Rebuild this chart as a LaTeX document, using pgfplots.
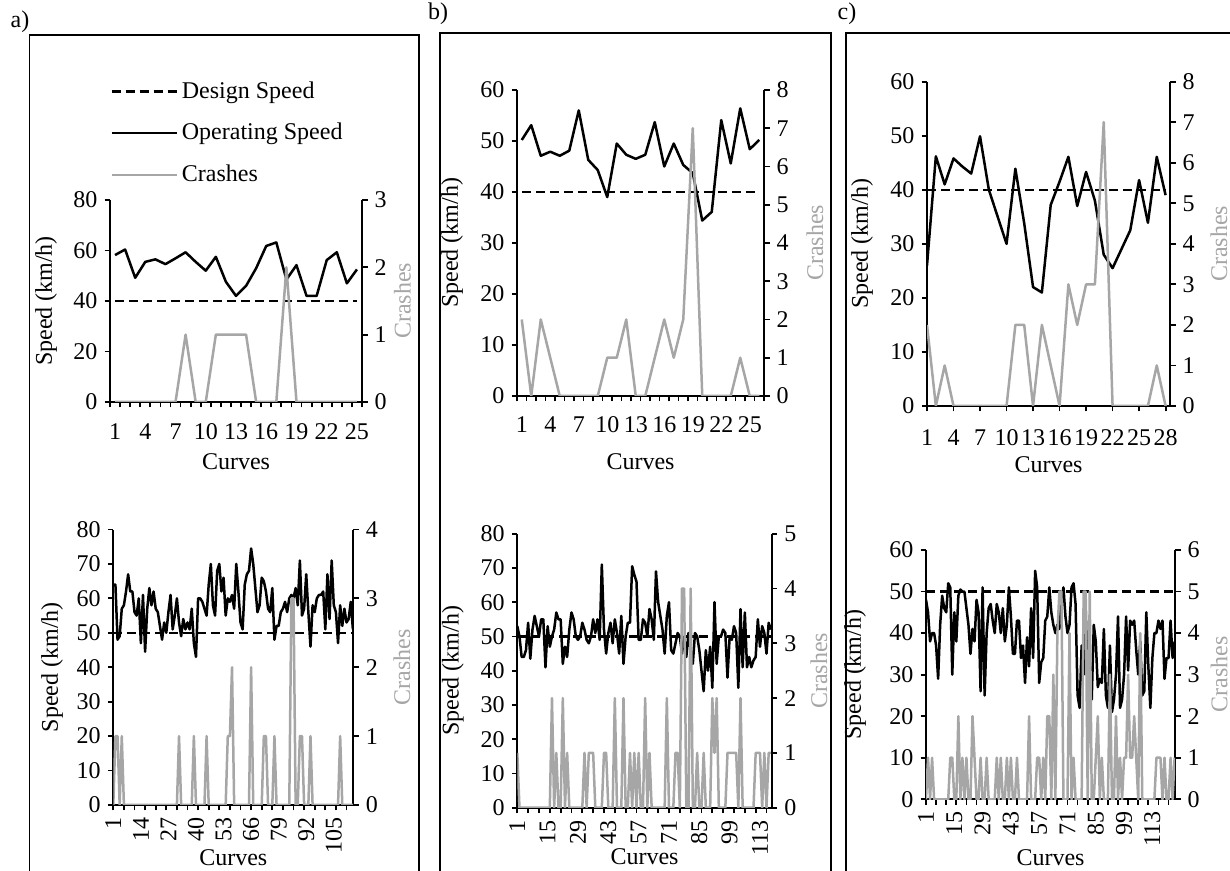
\documentclass[border=0pt]{standalone}
\usepackage{fontspec}
\setmainfont{Liberation Serif}
\usepackage{pgfplots}
\usepackage{pgfplotstable}
\pgfplotsset{compat=1.18}
\definecolor{crashgray}{HTML}{A6A6A6}

\pgfplotsset{
  panel/.style={scale only axis, anchor=south west,
    font=\fontsize{12}{14}\selectfont,
    axis line style={line width=0.9pt, black},
    tick style={line width=0.9pt, black},
    major tick length=2.75pt, minor tick length=2.75pt,
    /pgf/number format/assume math mode=true},
  leftax/.style={panel, axis x line*=bottom, axis y line*=left, tick align=outside,
    ylabel={Speed (km/h)}, xlabel={Curves}},
  rightax/.style={panel, axis x line=none, axis y line*=right, tick align=outside,
    ylabel={Crashes}, ylabel style={text=crashgray}},
  spd/.style={black, line width=1.25pt, no markers, line join=round},
  dsg/.style={black, line width=1.25pt, no markers, dash pattern=on 4.5pt off 2.5pt},
  crs/.style={crashgray, line width=1.25pt, no markers, line join=round},
}

% ---------- top a ----------
\pgfplotstableread[row sep=\\]{s c\\
58.2 0\\ 60.4 0\\ 49.2 0\\ 55.5 0\\ 56.5 0\\ 54.6 0\\ 56.9 0\\ 59.3 1\\ 55.5 0\\ 52 0\\
57.5 1\\ 47.6 1\\ 42 1\\ 46 1\\ 53 0\\ 61.8 0\\ 63.2 0\\ 48.5 2\\ 54.2 0\\ 42 0\\
42 0\\ 56.2 0\\ 59.3 0\\ 47 0\\ 52.5 0\\
}\TA
% ---------- top b ----------
\pgfplotstableread[row sep=\\]{s c\\
50.2 2\\ 53.1 0\\ 47.1 2\\ 47.9 1\\ 47.1 0\\ 48.1 0\\ 56 0\\ 46.3 0\\ 44.3 0\\ 39 1\\
49.5 1\\ 47.3 2\\ 46.5 0\\ 47.3 0\\ 53.7 1\\ 45 2\\ 49.5 1\\ 45.3 2\\ 43.7 7\\ 34.4 0\\
36.1 0\\ 54.1 0\\ 45.6 0\\ 56.4 1\\ 48.4 0\\ 50.2 0\\
}\TB
% ---------- top c ----------
\pgfplotstableread[row sep=\\]{s c\\
26 2\\ 46.2 0\\ 41 1\\ 45.8 0\\ 44.3 0\\ 43 0\\ 49.9 0\\ 40 0\\ 35 0\\ 30 0\\
43.9 2\\ 33.8 2\\ 22 0\\ 21 2\\ 37.2 1\\ 41.5 0\\ 46.1 3\\ 37 2\\ 43.3 3\\ 38 3\\
28 7\\ 25.5 0\\ 29 0\\ 32.5 0\\ 41.8 0\\ 33.9 0\\ 46.1 1\\ 39 0\\
}\TC
% ---------- bottom a ----------
\pgfplotstableread[row sep=\\]{s c\\
64 0\\ 64 1\\ 48 1\\ 49 0\\ 57 1\\ 58 0\\ 62 0\\ 67 0\\ 62 0\\ 62 0\\
56 0\\ 55 0\\ 60 0\\ 47 0\\ 61 0\\ 44.5 0\\ 57 0\\ 63 0\\ 58 0\\ 62 0\\
57 0\\ 56 0\\ 52 0\\ 48 0\\ 53 0\\ 50 0\\ 56 0\\ 61 0\\ 51 0\\ 55 0\\
60 0\\ 53 1\\ 49 0\\ 54 0\\ 51 0\\ 53 0\\ 51 0\\ 57 0\\ 47 1\\ 43 0\\
60 0\\ 60 0\\ 59 0\\ 57 0\\ 55 1\\ 64 0\\ 70 0\\ 58 0\\ 55 0\\ 68 0\\
70 0\\ 62 0\\ 66 0\\ 55 0\\ 60 1\\ 59 1\\ 61 2\\ 57 0\\ 70 0\\ 62 0\\
53 0\\ 51 0\\ 64 0\\ 67 0\\ 68 0\\ 74.5 2\\ 70 0\\ 63 0\\ 56 0\\ 58 0\\
66 0\\ 65 1\\ 62 1\\ 57 0\\ 56 0\\ 63 0\\ 48 1\\ 52 0\\ 52 0\\ 56 0\\
57 0\\ 59 0\\ 56 0\\ 60 0\\ 61 3\\ 60 3\\ 63 0\\ 58 0\\ 71 1\\ 55 1\\
57 0\\ 67 0\\ 56 0\\ 46 1\\ 58 0\\ 56 0\\ 60 0\\ 61 0\\ 61 0\\ 62 0\\
51 0\\ 67 0\\ 54 0\\ 71 0\\ 58 0\\ 56 0\\ 47 0\\ 58 1\\ 52 0\\ 57 0\\
53 0\\ 54 0\\ 59 0\\ 51 0\\
}\BA
% ---------- bottom b ----------
\pgfplotstableread[row sep=\\]{s c\\
53 1\\ 50 0\\ 44 0\\ 44 0\\ 46 0\\ 54 0\\ 43.5 0\\ 52 0\\ 56 0\\ 53 0\\
50 0\\ 55 0\\ 55 0\\ 41 0\\ 53 0\\ 47 0\\ 50 2\\ 52 0\\ 57 1\\ 55 0\\
55 0\\ 42 2\\ 47 0\\ 44 1\\ 52 0\\ 57 0\\ 55 0\\ 50 0\\ 49 0\\ 50 0\\
54 0\\ 52 1\\ 49 0\\ 48 1\\ 50 1\\ 55 1\\ 51 0\\ 55 0\\ 49 0\\ 71 0\\
52 1\\ 45 1\\ 51 0\\ 54 0\\ 48 0\\ 55 2\\ 51 0\\ 45 0\\ 56 0\\ 42 2\\
50 0\\ 54 0\\ 54 1\\ 70.5 0\\ 68 1\\ 66 0\\ 49 1\\ 49 0\\ 55 0\\ 54 2\\
50 0\\ 58 1\\ 55 0\\ 49 0\\ 69 0\\ 60 0\\ 56 0\\ 52 0\\ 45 0\\ 56 2\\
60 0\\ 46 0\\ 45 0\\ 48 1\\ 51 1\\ 50 0\\ 45 4\\ 50 4\\ 44 0\\ 51 0\\
46 4\\ 42 0\\ 51 0\\ 50 1\\ 46 0\\ 40 0\\ 34 1\\ 46 0\\ 40 0\\ 47 0\\
35 2\\ 60 1\\ 42 2\\ 50 0\\ 50 0\\ 52 0\\ 51 0\\ 38 1\\ 50 1\\ 49 1\\
53 1\\ 51 1\\ 35 0\\ 58 2\\ 41 0\\ 57 0\\ 41 0\\ 44 0\\ 41 0\\ 43 0\\
44 1\\ 55 1\\ 47 1\\ 53 0\\ 51 1\\ 45 0\\ 54 1\\ 52 1\\
}\BB
% ---------- bottom c ----------
\pgfplotstableread[row sep=\\]{s c\\
48 0\\ 45 1\\ 38 0\\ 40 1\\ 40 0\\ 37 0\\ 29 0\\ 42 0\\ 49 0\\ 46 0\\
45 0\\ 52 0\\ 51 1\\ 30 1\\ 45 0\\ 38 0\\ 49 2\\ 50.5 0\\ 50 1\\ 50 0\\
46 1\\ 42 0\\ 35 0\\ 41 2\\ 38 1\\ 48 0\\ 45 0\\ 26 1\\ 51 0\\ 25 0\\
40 1\\ 46 0\\ 47 0\\ 43 0\\ 40 0\\ 47 1\\ 45 0\\ 40 1\\ 46 0\\ 38 0\\
42 1\\ 51 0\\ 44 1\\ 35 0\\ 35 0\\ 43 1\\ 43 0\\ 34 0\\ 37 0\\ 28 0\\
39 0\\ 32 2\\ 46 0\\ 34 0\\ 55 0\\ 51 1\\ 28 1\\ 33 0\\ 34 1\\ 43 0\\
44 2\\ 51 2\\ 45 0\\ 42 3\\ 40 0\\ 42 4\\ 41 5\\ 48 5\\ 51 0\\ 44 0\\
40 0\\ 42 4\\ 51 0\\ 52 1\\ 47 0\\ 25 0\\ 22 0\\ 37 0\\ 30 5\\ 46 5\\
27 0\\ 32 5\\ 24 0\\ 42 0\\ 38 1\\ 27 2\\ 29 0\\ 28 1\\ 41 0\\ 25 0\\
22 0\\ 37 3\\ 21 0\\ 24 0\\ 30 2\\ 44 0\\ 22 1\\ 24 0\\ 30 1\\ 44 1\\
31 3\\ 43 1\\ 42 1\\ 43 2\\ 36 1\\ 30 0\\ 38 4\\ 25 0\\ 26 0\\ 45 0\\
32 0\\ 22 0\\ 34 0\\ 40 0\\ 40 1\\ 43 1\\ 41 1\\ 43 0\\ 29 1\\ 34 0\\
34 0\\ 43 1\\ 34 0\\ 38 1\\
}\BC

\begin{document}
\begin{tikzpicture}
\useasboundingbox (0,0) rectangle (615pt,435.5pt);
\clip (0,0) rectangle (615pt,435.5pt);

% panel frames
\draw[line width=0.85pt] (14.75pt,-5pt) -- (14.75pt,418pt) -- (209.5pt,418pt) -- (209.5pt,-5pt);
\draw[line width=0.85pt] (220pt,-5pt) -- (220pt,419pt) -- (415.5pt,419pt) -- (415.5pt,-5pt);
\draw[line width=0.85pt] (423pt,-5pt) -- (423pt,419pt) -- (625pt,419pt);
\node[font=\fontsize{12}{14}\selectfont] at (10pt,424.5pt) {a)};
\node[font=\fontsize{12}{14}\selectfont] at (219pt,428.5pt) {b)};
\node[font=\fontsize{12}{14}\selectfont] at (423.5pt,428.5pt) {c)};

% ===== top a =====
\begin{axis}[leftax, at={(55pt,234.5pt)}, width=126pt, height=101pt,
  xmin=0.5, xmax=25.5, ymin=0, ymax=80, ytick={0,20,...,80},
  xtick={1,4,...,25}, minor xtick={0.5,1.5,...,25.5}, major x tick style={draw=none},
  xticklabel style={yshift=-4.5pt},
  ylabel style={at={(axis description cs:-0.254,0.5)}, anchor=center},
  xlabel style={at={(axis description cs:0.5,0)}, anchor=center, yshift=-29.8pt},
  legend style={at={(axis description cs:0,1)}, anchor=south west, yshift=5.5pt,
    draw=none, fill=none, inner sep=0pt, row sep=7pt, cells={anchor=west},
    font=\fontsize{12}{14}\selectfont},
  legend image code/.code={\draw[#1] (0pt,0pt) -- (32.5pt,0pt);}]
\addlegendimage{black, line width=1.25pt, dash pattern=on 4.5pt off 2.5pt}
\addlegendentry{Design Speed}
\addlegendimage{black, line width=1.25pt}
\addlegendentry{Operating Speed}
\addlegendimage{crashgray, line width=1.25pt}
\addlegendentry{Crashes}
\addplot[spd, forget plot] table[x expr=\coordindex+1, y=s] {\TA};
\addplot[dsg, forget plot] coordinates {(1,40) (25,40)};
\end{axis}
\begin{axis}[rightax, at={(55pt,234.5pt)}, width=126pt, height=101pt,
  xmin=0.5, xmax=25.5, ymin=0, ymax=3, ytick={0,1,2,3},
  ylabel style={at={(axis description cs:1.16,0.5)}, anchor=center}]
\addplot[crs] table[x expr=\coordindex+1, y=c] {\TA};
\end{axis}

% ===== top b =====
\begin{axis}[leftax, at={(258.5pt,237.5pt)}, width=123.5pt, height=153pt,
  xmin=0.5, xmax=26.5, ymin=0, ymax=60, ytick={0,10,...,60},
  xtick={1,4,...,25}, minor xtick={0.5,1.5,...,26.5}, major x tick style={draw=none},
  xticklabel style={yshift=-4pt},
  ylabel style={at={(axis description cs:-0.263,0.5)}, anchor=center},
  xlabel style={at={(axis description cs:0.5,0)}, anchor=center, yshift=-33pt}]
\addplot[spd] table[x expr=\coordindex+1, y=s] {\TB};
\addplot[dsg] coordinates {(1,40) (26,40)};
\end{axis}
\begin{axis}[rightax, at={(258.5pt,237.5pt)}, width=123.5pt, height=153pt,
  xmin=0.5, xmax=26.5, ymin=0, ymax=8, ytick={0,1,...,8},
  ylabel style={at={(axis description cs:1.206,0.5)}, anchor=center}]
\addplot[crs] table[x expr=\coordindex+1, y=c] {\TB};
\end{axis}

% ===== top c =====
\begin{axis}[leftax, at={(463.5pt,232.5pt)}, width=121.5pt, height=162.15pt,
  xmin=1, xmax=28.5, ymin=0, ymax=60, ytick={0,10,...,60},
  xtick={1,4,...,28}, xticklabel style={yshift=-5.5pt},
  ylabel style={at={(axis description cs:-0.267,0.5)}, anchor=center},
  xlabel style={at={(axis description cs:0.5,0)}, anchor=center, yshift=-29.5pt}]
\addplot[spd] table[x expr=\coordindex+1, y=s] {\TC};
\addplot[dsg] coordinates {(1,40) (28,40)};
\end{axis}
\begin{axis}[rightax, at={(463.5pt,232.5pt)}, width=121.5pt, height=162.15pt,
  xmin=1, xmax=28.5, ymin=0, ymax=8, ytick={0,1,...,8},
  ylabel style={at={(axis description cs:1.2016,0.5)}, anchor=center}]
\addplot[crs] table[x expr=\coordindex+1, y=c] {\TC};
\end{axis}

% ===== bottom a =====
\begin{axis}[leftax, at={(56.65pt,33pt)}, width=120pt, height=137.75pt,
  xmin=1, xmax=114.2, ymin=0, ymax=80, ytick={0,10,...,80},
  xtick={1,14,...,105}, minor xtick={1,6,...,111}, major x tick style={draw=none},
  xticklabel style={rotate=90, anchor=east},
  ylabel style={at={(axis description cs:-0.255,0.5)}, anchor=center},
  xlabel style={at={(axis description cs:0.5,0)}, anchor=center, yshift=-26.5pt}]
\addplot[spd] table[x expr=\coordindex+1, y=s] {\BA};
\addplot[dsg] coordinates {(1,50) (114,50)};
\end{axis}
\begin{axis}[rightax, at={(56.65pt,33pt)}, width=120pt, height=137.75pt,
  xmin=1, xmax=114.2, ymin=0, ymax=4, ytick={0,1,...,4},
  ylabel style={at={(axis description cs:1.203,0.5)}, anchor=center}]
\addplot[crs] table[x expr=\coordindex+1, y=c] {\BA};
\end{axis}

% ===== bottom b =====
\begin{axis}[leftax, at={(258.65pt,31.65pt)}, width=127.2pt, height=137pt,
  xmin=1, xmax=118.4, ymin=0, ymax=80, ytick={0,10,...,80},
  xtick={1,15,...,113}, minor xtick={1,6,...,116}, major x tick style={draw=none},
  xticklabel style={rotate=90, anchor=east},
  ylabel style={at={(axis description cs:-0.253,0.5)}, anchor=center},
  xlabel style={at={(axis description cs:0.5,0)}, anchor=center, yshift=-24.5pt}]
\addplot[spd] table[x expr=\coordindex+1, y=s] {\BB};
\addplot[dsg] coordinates {(1,50) (118,50)};
\end{axis}
\begin{axis}[rightax, at={(258.65pt,31.65pt)}, width=127.2pt, height=137pt,
  xmin=1, xmax=118.4, ymin=0, ymax=5, ytick={0,1,...,5},
  ylabel style={at={(axis description cs:1.186,0.5)}, anchor=center}]
\addplot[crs] table[x expr=\coordindex+1, y=c] {\BB};
\end{axis}

% ===== bottom c =====
\begin{axis}[leftax, at={(463pt,35.85pt)}, width=124.5pt, height=124.65pt,
  xmin=1, xmax=124.2, ymin=0, ymax=60, ytick={0,10,...,60},
  xtick={1,15,...,113}, minor xtick={1,6,...,121}, major x tick style={draw=none},
  xticklabel style={rotate=90, anchor=east},
  ylabel style={at={(axis description cs:-0.285,0.5)}, anchor=center},
  xlabel style={at={(axis description cs:0.5,0)}, anchor=center, yshift=-29.3pt}]
\addplot[spd] table[x expr=\coordindex+1, y=s] {\BC};
\addplot[dsg] coordinates {(1,50) (124,50)};
\end{axis}
\begin{axis}[rightax, at={(463pt,35.85pt)}, width=124.5pt, height=124.65pt,
  xmin=1, xmax=124.2, ymin=0, ymax=6, ytick={0,1,...,6},
  ylabel style={at={(axis description cs:1.177,0.5)}, anchor=center}]
\addplot[crs] table[x expr=\coordindex+1, y=c] {\BC};
\end{axis}
\end{tikzpicture}
\end{document}
